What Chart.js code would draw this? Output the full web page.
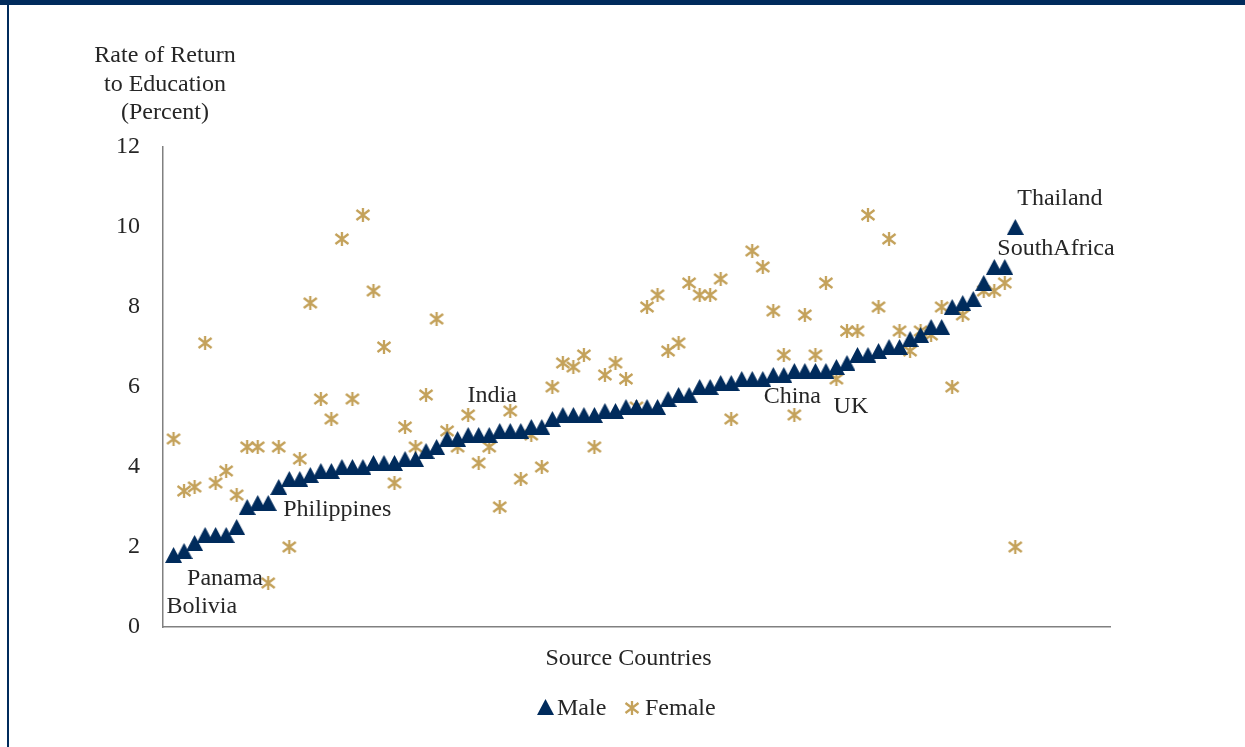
<!DOCTYPE html>
<html>
<head>
<meta charset="utf-8">
<script src="https://cdn.jsdelivr.net/npm/chart.js@4"></script>
<style>
    html, body { margin: 0; padding: 0; background: #fff; overflow: hidden; }
    #wrap { position: relative; width: 1245px; height: 747px; }
    #topbar { position: absolute; left: 0; top: 0; width: 1245px; height: 5px; background: #002b5c; }
    #leftbar { position: absolute; left: 7px; top: 0; width: 2px; height: 747px; background: #002b5c; }
</style>
</head>
<body>
<div id="wrap">
    <canvas id="chart"></canvas>
    <div id="topbar"></div>
    <div id="leftbar"></div>
</div>
<script>
// Rate of return to education by source country, sorted by the male rate
const maleReturn = [
    1.8, 1.9, 2.1, 2.3, 2.3, 2.3, 2.5, 3.0, 3.1, 3.1,
    3.5, 3.7, 3.7, 3.8, 3.9, 3.9, 4.0, 4.0, 4.0, 4.1,
    4.1, 4.1, 4.2, 4.2, 4.4, 4.5, 4.7, 4.7, 4.8, 4.8,
    4.8, 4.9, 4.9, 4.9, 5.0, 5.0, 5.2, 5.3, 5.3, 5.3,
    5.3, 5.4, 5.4, 5.5, 5.5, 5.5, 5.5, 5.7, 5.8, 5.8,
    6.0, 6.0, 6.1, 6.1, 6.2, 6.2, 6.2, 6.3, 6.3, 6.4,
    6.4, 6.4, 6.4, 6.5, 6.6, 6.8, 6.8, 6.9, 7.0, 7.0,
    7.2, 7.3, 7.5, 7.5, 8.0, 8.1, 8.2, 8.6, 9.0, 9.0,
    10.0
];
const femaleReturn = [
    4.7, 3.4, 3.5, 7.1, 3.6, 3.9, 3.3, 4.5, 4.5, 1.1,
    4.5, 2.0, 4.2, 8.1, 5.7, 5.2, 9.7, 5.7, 10.3, 8.4,
    7.0, 3.6, 5.0, 4.5, 5.8, 7.7, 4.9, 4.5, 5.3, 4.1,
    4.5, 3.0, 5.4, 3.7, 4.8, 4.0, 6.0, 6.6, 6.5, 6.8,
    4.5, 6.3, 6.6, 6.2, 5.5, 8.0, 8.3, 6.9, 7.1, 8.6,
    8.3, 8.3, 8.7, 5.2, null, 9.4, 9.0, 7.9, 6.8, 5.3,
    7.8, 6.8, 8.6, 6.2, 7.4, 7.4, 10.3, 8.0, 9.7, 7.4,
    6.9, 7.4, 7.3, 8.0, 6.0, 7.8, null, 8.4, 8.4, 8.6,
    2.0
];
const yTicks = [0, 2, 4, 6, 8, 10, 12];
const yTitleLines = ['Rate of Return', 'to Education', '(Percent)'];
const xTitle = 'Source Countries';
const seriesNames = ['Male', 'Female'];
const labelNames = ['Bolivia', 'Panama', 'Philippines', 'India', 'China', 'UK', 'Thailand', 'SouthAfrica'];
const labelPoints = [1, 2, 10, 31, 60, 65, 81, 81];

const NAVY = '#002b5c';
const GOLD = '#c4a25b';
const TEXT = '#262626';
const AXIS = '#808080';
const FONT = '"Liberation Serif", "Times New Roman", serif';

// Excel-like markers: triangle centred on its box, six-armed star
function makeTriangle() {
    const c = document.createElement('canvas');
    c.width = 17; c.height = 16;
    const g = c.getContext('2d');
    g.fillStyle = NAVY;
    g.beginPath();
    g.moveTo(0, 16); g.lineTo(8.5, 0); g.lineTo(17, 16);
    g.closePath();
    g.fill();
    return c;
}

function makeStar() {
    const c = document.createElement('canvas');
    c.width = 16; c.height = 16;
    const g = c.getContext('2d');
    g.strokeStyle = GOLD;
    g.lineWidth = 2.3;
    g.beginPath();
    g.moveTo(8, 1); g.lineTo(8, 15);
    g.moveTo(1.5, 3); g.lineTo(14.5, 13);
    g.moveTo(1.5, 13); g.lineTo(14.5, 3);
    g.stroke();
    return c;
}

const triangle = makeTriangle();
const star = makeStar();

const toPoints = arr => arr.map((v, i) => ({ x: i + 1, y: v }));

const labelOffsets = [
    { dx: -7, dy: 52, align: 'left' },
    { dx: 3, dy: 28, align: 'left' },
    { dx: 15, dy: 7, align: 'left' },
    { dx: 3, dy: -39, align: 'center' },
    { dx: -2, dy: 26, align: 'center' },
    { dx: 4, dy: 44, align: 'center' },
    { dx: 2, dy: -28, align: 'left' },
    { dx: -18, dy: 22, align: 'left' }
];

const textPlugin = {
    id: 'textPlugin',
    afterDatasetsDraw(chart) {
        const ctx = chart.ctx;
        const area = chart.chartArea;
        ctx.save();
        ctx.font = '24px ' + FONT;
        ctx.fillStyle = TEXT;
        ctx.textBaseline = 'middle';

        // country labels next to their points
        const meta = chart.getDatasetMeta(0);
        labelNames.forEach((name, k) => {
            const pt = meta.data[labelPoints[k] - 1];
            const o = labelOffsets[k];
            ctx.textAlign = o.align;
            ctx.fillText(name, pt.x + o.dx, pt.y + o.dy);
        });

        // y title above the axis
        ctx.textAlign = 'center';
        yTitleLines.forEach((line, k) => ctx.fillText(line, area.left + 2, 56 + k * 28.5));

        // x title
        ctx.fillText(xTitle, (area.left + area.right) / 2 - 8, 659);

        // legend
        const ly = 708;
        ctx.textAlign = 'left';
        ctx.drawImage(triangle, 537, ly - 9);
        ctx.fillText(seriesNames[0], 557, ly + 1);
        ctx.drawImage(star, 624, ly - 8);
        ctx.fillText(seriesNames[1], 645, ly + 1);
        ctx.restore();
    }
};

new Chart(document.getElementById('chart'), {
    type: 'scatter',
    data: {
        datasets: [
            {
                label: seriesNames[0],
                data: toPoints(maleReturn),
                pointStyle: triangle,
                pointRadius: 9,
                pointHoverRadius: 9
            },
            {
                label: seriesNames[1],
                data: toPoints(femaleReturn),
                pointStyle: star,
                pointRadius: 8,
                pointHoverRadius: 8
            }
        ]
    },
    options: {
        responsive: true,
        maintainAspectRatio: false,
        animation: false,
        events: [],
        layout: { padding: { left: 83, right: 135, top: 147, bottom: 120 } },
        plugins: {
            legend: { display: false },
            tooltip: { enabled: false }
        },
        scales: {
            x: {
                type: 'linear',
                min: 0,
                max: 90,
                grid: { display: false, drawTicks: false },
                border: { display: true, color: AXIS, width: 1.5 },
                ticks: { display: false },
                afterFit(scale) { scale.height = 0; }
            },
            y: {
                min: 0,
                max: 12,
                grid: { display: false, drawTicks: false },
                border: { display: true, color: AXIS, width: 1.5 },
                afterBuildTicks(scale) { scale.ticks = yTicks.map(v => ({ value: v })); },
                ticks: {
                    padding: 23,
                    color: TEXT,
                    font: { family: FONT, size: 24 }
                },
                afterFit(scale) { scale.width = 80; }
            }
        }
    },
    plugins: [textPlugin]
});
</script>
</body>
</html>
